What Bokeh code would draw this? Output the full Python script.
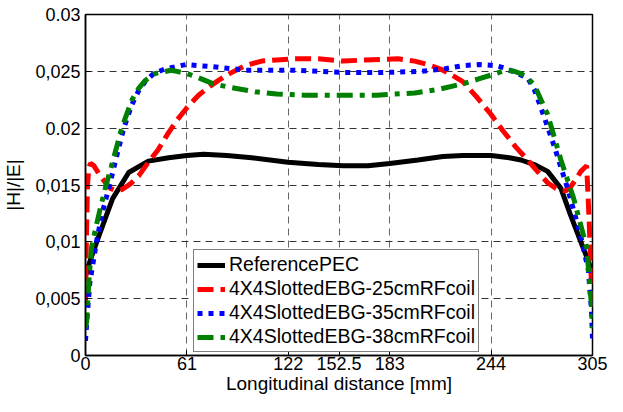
from bokeh.plotting import figure
from bokeh.models import Range1d, FixedTicker, Legend, LegendItem
from bokeh.embed import file_html
from bokeh.resources import INLINE

# ---- data ----
ref_x = [0, 1.6, 3.6, 8.5, 16.3, 26, 37.8, 50, 61, 71, 85, 100, 121.8, 140, 155, 170,
         183, 200, 215, 227, 244, 255, 262, 270, 278, 286, 291.7, 298.5, 302, 305]
ref_y = [0.0070, 0.0078, 0.0087, 0.0107, 0.0138, 0.0161, 0.0171, 0.0174, 0.0176, 0.0177,
         0.0176, 0.0174, 0.0170, 0.0168, 0.0167, 0.0167, 0.0169, 0.0172, 0.0175, 0.0176,
         0.0176, 0.0174, 0.0172, 0.0168, 0.0162, 0.0147, 0.0124, 0.0098, 0.0085, 0.0072]

ebg25_x = [0, 0.5, 1.2, 2, 3, 5, 8, 12, 15, 18.3, 22, 27, 32, 37.8, 43.7, 49.5, 55, 61,
           68, 75, 80, 86.6, 96, 106, 115, 125, 140, 155, 168, 188, 198, 206, 213.6, 220,
           227, 235, 244, 251, 258.5, 266, 270, 278, 283, 286, 289, 291.7, 295, 298,
           301.5, 303, 304.4, 305]
ebg25_y = [0.0045, 0.0100, 0.0150, 0.0165, 0.0169, 0.0167, 0.0160, 0.0152, 0.0147, 0.0145,
           0.0146, 0.0151, 0.0158, 0.0170, 0.0181, 0.0195, 0.0207, 0.0218, 0.0229, 0.0237,
           0.0242, 0.0248, 0.0255, 0.0259, 0.0260, 0.0261, 0.0261, 0.0259, 0.0260, 0.0261,
           0.0259, 0.0256, 0.0252, 0.0247, 0.0241, 0.0228, 0.0212, 0.0198, 0.0184, 0.0172,
           0.0165, 0.0152, 0.0147, 0.0145, 0.0145, 0.0148, 0.0155, 0.0162, 0.0167, 0.0118,
           0.0061, 0.0038]

ebg35_x = [0, 1, 2.6, 6.6, 10, 14.5, 18.5, 23, 28, 32, 35.9, 41, 47.6, 54, 60.6, 68, 76.9,
           96.4, 125.7, 155, 180, 202, 215, 227, 237, 246.8, 252, 258.5, 266, 270, 274,
           282, 290, 297.6, 302.5, 304.4, 305]
ebg35_y = [0.0013, 0.0035, 0.0064, 0.0100, 0.0125, 0.0150, 0.0174, 0.0200, 0.0221, 0.0233,
           0.0241, 0.0248, 0.0252, 0.0254, 0.0256, 0.0255, 0.0254, 0.0251, 0.0251, 0.0249,
           0.0249, 0.0250, 0.0252, 0.0255, 0.0256, 0.0255, 0.0253, 0.0249, 0.0244, 0.0234,
           0.0218, 0.0184, 0.0147, 0.0107, 0.0075, 0.0040, 0.0015]

ebg38_x = [0, 0.7, 2, 3.6, 6.6, 9, 12.4, 15.5, 18.3, 21, 24.2, 28, 32, 36, 41.7, 51.4, 55,
           61, 67, 77, 86.6, 102, 115, 131.5, 155, 175, 198, 212, 227, 238, 246.8, 252.7,
           258, 262, 266, 270, 278, 286, 293.7, 301.5, 304.4, 305]
ebg38_y = [0.0024, 0.0030, 0.0065, 0.0095, 0.0115, 0.0130, 0.0150, 0.0166, 0.0181, 0.0196,
           0.0210, 0.0225, 0.0235, 0.0242, 0.0248, 0.0251, 0.0250, 0.0248, 0.0245, 0.0239,
           0.0236, 0.0232, 0.0230, 0.0229, 0.0229, 0.0229, 0.0231, 0.0234, 0.0239, 0.0244,
           0.0248, 0.0251, 0.0250, 0.0248, 0.0244, 0.0238, 0.0212, 0.0172, 0.0138, 0.0095,
           0.0044, 0.0024]

labels = ["ReferencePEC", "4X4SlottedEBG-25cmRFcoil",
          "4X4SlottedEBG-35cmRFcoil", "4X4SlottedEBG-38cmRFcoil"]

x_ticks = [0, 61, 122, 152.5, 183, 244, 305]
x_tick_labels = ["0", "61", "122", "152.5", "183", "244", "305"]
y_ticks = [0, 0.005, 0.01, 0.015, 0.02, 0.025, 0.03]
y_tick_labels = ["0", "0,005", "0,01", "0,015", "0.02", "0,025", "0.03"]

FONT = "Liberation Sans"

p = figure(width=607, height=396, output_backend="svg", toolbar_location=None,
           x_range=Range1d(0, 305), y_range=Range1d(0, 0.03),
           min_border_left=85, min_border_right=15, min_border_top=14, min_border_bottom=0,
           x_axis_label="Longitudinal distance [mm]", y_axis_label="|H|/|E|")
p.background_fill_color = "white"
p.border_fill_color = "white"
p.outline_line_color = "black"
p.outline_line_width = 1.5

for ax in (p.xaxis[0], p.yaxis[0]):
    ax.axis_line_color = "black"
    ax.axis_line_width = 1.5
    ax.major_tick_in = 5
    ax.major_tick_out = 0
    ax.major_tick_line_color = "black"
    ax.minor_tick_line_color = None
    ax.major_label_text_font = FONT
    ax.major_label_text_font_size = "18px"
    ax.major_label_text_color = "black"
    ax.axis_label_text_font = FONT
    ax.axis_label_text_font_size = "19px"
    ax.axis_label_text_font_style = "normal"
    ax.axis_label_text_color = "black"

p.xaxis[0].ticker = FixedTicker(ticks=x_ticks)
p.xaxis[0].major_label_overrides = {v: s for v, s in zip(x_ticks, x_tick_labels)}
p.xaxis[0].major_label_standoff = 1
p.xaxis[0].axis_label_standoff = 0
p.yaxis[0].ticker = FixedTicker(ticks=y_ticks)
p.yaxis[0].major_label_overrides = {v: s for v, s in zip(y_ticks, y_tick_labels)}
p.yaxis[0].major_label_standoff = 5
p.yaxis[0].axis_label_standoff = 8

p.xgrid.grid_line_color = "#666666"
p.xgrid.grid_line_dash = "7 5"
p.xgrid.grid_line_width = 1
p.ygrid.grid_line_color = "#333333"
p.ygrid.grid_line_dash = "7 5"
p.ygrid.grid_line_width = 1

r0 = p.line(ref_x, ref_y, line_color="black", line_width=5)
r1 = p.line(ebg25_x, ebg25_y, line_color="#ff0000", line_width=5, line_dash="16 7")
r2 = p.line(ebg35_x, ebg35_y, line_color="#0000ff", line_width=5, line_dash="5 6")
r3 = p.line(ebg38_x, ebg38_y, line_color="#008000", line_width=5, line_dash="16 7 5 7")

legend = Legend(items=[LegendItem(label=l, renderers=[r]) for l, r in zip(labels, [r0, r1, r2, r3])],
                location=(108, 3))
legend.label_text_font = FONT
legend.label_text_font_size = "19.5px"
legend.label_text_color = "black"
legend.glyph_width = 28
legend.glyph_height = 20
legend.label_height = 20
legend.label_standoff = 4
legend.spacing = 1
legend.padding = 3
legend.margin = 0
legend.border_line_color = "black"
legend.border_line_width = 1
legend.background_fill_color = "white"
legend.background_fill_alpha = 1
p.add_layout(legend, "center")

open("out.html", "w").write(file_html(p, INLINE))
